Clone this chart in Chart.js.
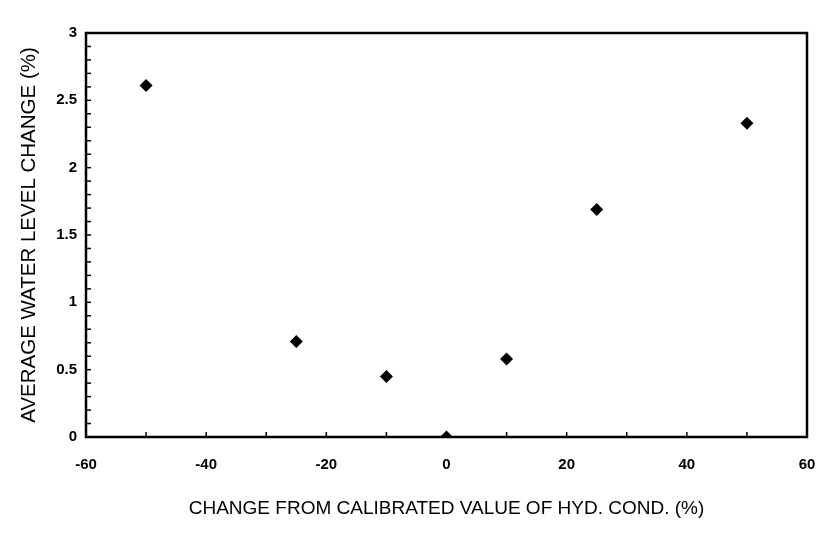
<!DOCTYPE html>
<html>
<head>
<meta charset="utf-8">
<script src="https://cdn.jsdelivr.net/npm/chart.js@4/dist/chart.umd.min.js"></script>
<style>
  html, body { margin: 0; padding: 0; background: #fff; }
  #wrap { width: 823px; height: 542px; }
</style>
</head>
<body>
<div id="wrap"><canvas id="myChart" width="823" height="542"></canvas></div>
<script>
// values
const hydCondChange = [-50, -25, -10, 0, 10, 25, 50]
const waterLevelChange = [2.61, 0.71, 0.45, 0, 0.58, 1.69, 2.33]

const xTicks = [-60, -40, -20, 0, 20, 40, 60]
const yTicks = [0, 0.5, 1, 1.5, 2, 2.5, 3]
const xMinorStep = 10
const yMinorStep = 0.1

const xTitle = "CHANGE FROM CALIBRATED VALUE OF HYD. COND. (%)"
const yTitle = "AVERAGE WATER LEVEL CHANGE (%)"

// box round the plot and small ticks pointing inward
const frame = {
    id: "frame",
    afterDatasetsDraw(chart) {
        const ctx = chart.ctx
        const a = chart.chartArea
        const xs = chart.scales.x
        const ys = chart.scales.y
        ctx.save()
        ctx.strokeStyle = "#000"
        ctx.lineWidth = 1.5
        for (let v = xs.min; v <= xs.max + 1e-9; v += xMinorStep) {
            const px = xs.getPixelForValue(v)
            ctx.beginPath()
            ctx.moveTo(px, a.bottom)
            ctx.lineTo(px, a.bottom - 5)
            ctx.stroke()
        }
        for (let v = ys.min; v <= ys.max + 1e-9; v += yMinorStep) {
            const py = ys.getPixelForValue(v)
            ctx.beginPath()
            ctx.moveTo(a.left, py)
            ctx.lineTo(a.left + 5, py)
            ctx.stroke()
        }
        ctx.lineWidth = 2.5
        ctx.strokeRect(a.left, a.top, a.right - a.left, a.bottom - a.top)
        ctx.restore()
    }
}

const tickFont = { family: "'Liberation Sans', Arial, sans-serif", size: 15, weight: "bold" }
const xTitleFont = { family: "'Liberation Sans', Arial, sans-serif", size: 19 }
const yTitleFont = { family: "'Liberation Sans', Arial, sans-serif", size: 20.5 }

let ctx = document.getElementById("myChart")
let chart = new Chart(ctx, {
    type: "scatter",
    data: {
        datasets: [{
            data: hydCondChange.map((x, i) => ({ x: x, y: waterLevelChange[i] })),
            pointStyle: "rectRot",
            pointRadius: 6.5,
            backgroundColor: "#000",
            borderColor: "#000",
            borderWidth: 0
        }]
    },
    options: {
        responsive: false,
        animation: false,
        layout: { padding: { top: 33, right: 16, left: 0, bottom: 0 } },
        scales: {
            x: {
                type: "linear",
                min: -60,
                max: 60,
                afterBuildTicks: (s) => { s.ticks = xTicks.map(v => ({ value: v })) },
                afterFit: (s) => { s.height = 105; s.paddingLeft = 0; s.paddingRight = 0 },
                grid: { display: false, drawTicks: false },
                border: { display: false },
                ticks: { color: "#000", font: tickFont, padding: 19, maxRotation: 0, callback: (v) => String(v) },
                title: { display: true, text: xTitle, color: "#000", font: xTitleFont, padding: { top: 0, bottom: 22 } }
            },
            y: {
                type: "linear",
                min: 0,
                max: 3,
                afterBuildTicks: (s) => { s.ticks = yTicks.map(v => ({ value: v })) },
                afterFit: (s) => { s.width = 86; s.paddingTop = 0; s.paddingBottom = 0 },
                grid: { display: false, drawTicks: false },
                border: { display: false },
                ticks: { color: "#000", font: tickFont, padding: 9, callback: (v) => String(v) },
                title: { display: true, text: yTitle, color: "#000", font: yTitleFont, padding: { top: 17, bottom: 0 } }
            }
        },
        plugins: {
            legend: { display: false },
            tooltip: { enabled: false }
        }
    },
    plugins: [frame]
})
</script>
</body>
</html>
